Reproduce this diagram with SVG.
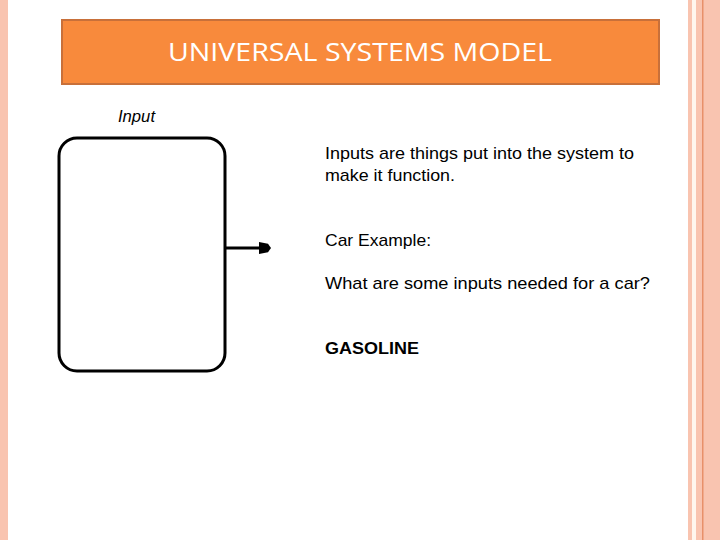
<svg xmlns="http://www.w3.org/2000/svg" width="720" height="540" viewBox="0 0 720 540">
<style>
.body{font-family:"Liberation Sans",Arial,sans-serif;font-size:17px;fill:#000}
</style>
<defs>
<marker id="ah" markerWidth="4" markerHeight="4" refX="1" refY="2" orient="auto" markerUnits="strokeWidth"><path d="M0,0 L3,0.6 L4,2 L3,3.4 L0,4 Z" fill="#000"/></marker>
</defs>
<rect width="720" height="540" fill="#fff"/>
<rect x="0" y="0" width="8" height="540" fill="#F9C4B0"/>
<rect x="688" y="0" width="4" height="540" fill="#F9C4B0"/>
<rect x="692" y="0" width="4" height="540" fill="#FFF6EE"/>
<rect x="696" y="0" width="24" height="540" fill="#F9C4B0"/>
<rect x="702" y="0" width="1.5" height="540" fill="#E8906A"/>
<g id="title">
<rect x="62" y="20" width="597" height="64" fill="#F88A3C" stroke="#C8703A" stroke-width="2"/>
<text x="168" y="61" textLength="384" lengthAdjust="spacingAndGlyphs" font-family="'Open Sans','Liberation Sans',sans-serif" font-size="25" fill="#fff">UNIVERSAL SYSTEMS MODEL</text>
</g>
<g id="input">
<text x="118" y="122" textLength="37" lengthAdjust="spacingAndGlyphs" font-family="'Liberation Sans',Arial,sans-serif" font-size="17" font-style="italic" fill="#000">Input</text>
<rect x="59" y="138" width="166" height="233" rx="18" fill="#fff" stroke="#000" stroke-width="3"/>
</g>
<g id="connectors">
<line x1="225" y1="248" x2="262" y2="248" stroke="#000" stroke-width="3" marker-end="url(#ah)"/>
</g>
<g id="text">
<text class="body" x="325" y="159" textLength="309" lengthAdjust="spacingAndGlyphs">Inputs are things put into the system to</text>
<text class="body" x="325" y="181" textLength="130" lengthAdjust="spacingAndGlyphs">make it function.</text>
<text class="body" x="325" y="246" textLength="106" lengthAdjust="spacingAndGlyphs">Car Example:</text>
<text class="body" x="325" y="289" textLength="325" lengthAdjust="spacingAndGlyphs">What are some  inputs needed for a car?</text>
<text class="body" x="325" y="354" font-weight="bold" textLength="94" lengthAdjust="spacingAndGlyphs">GASOLINE</text>
</g>
</svg>
